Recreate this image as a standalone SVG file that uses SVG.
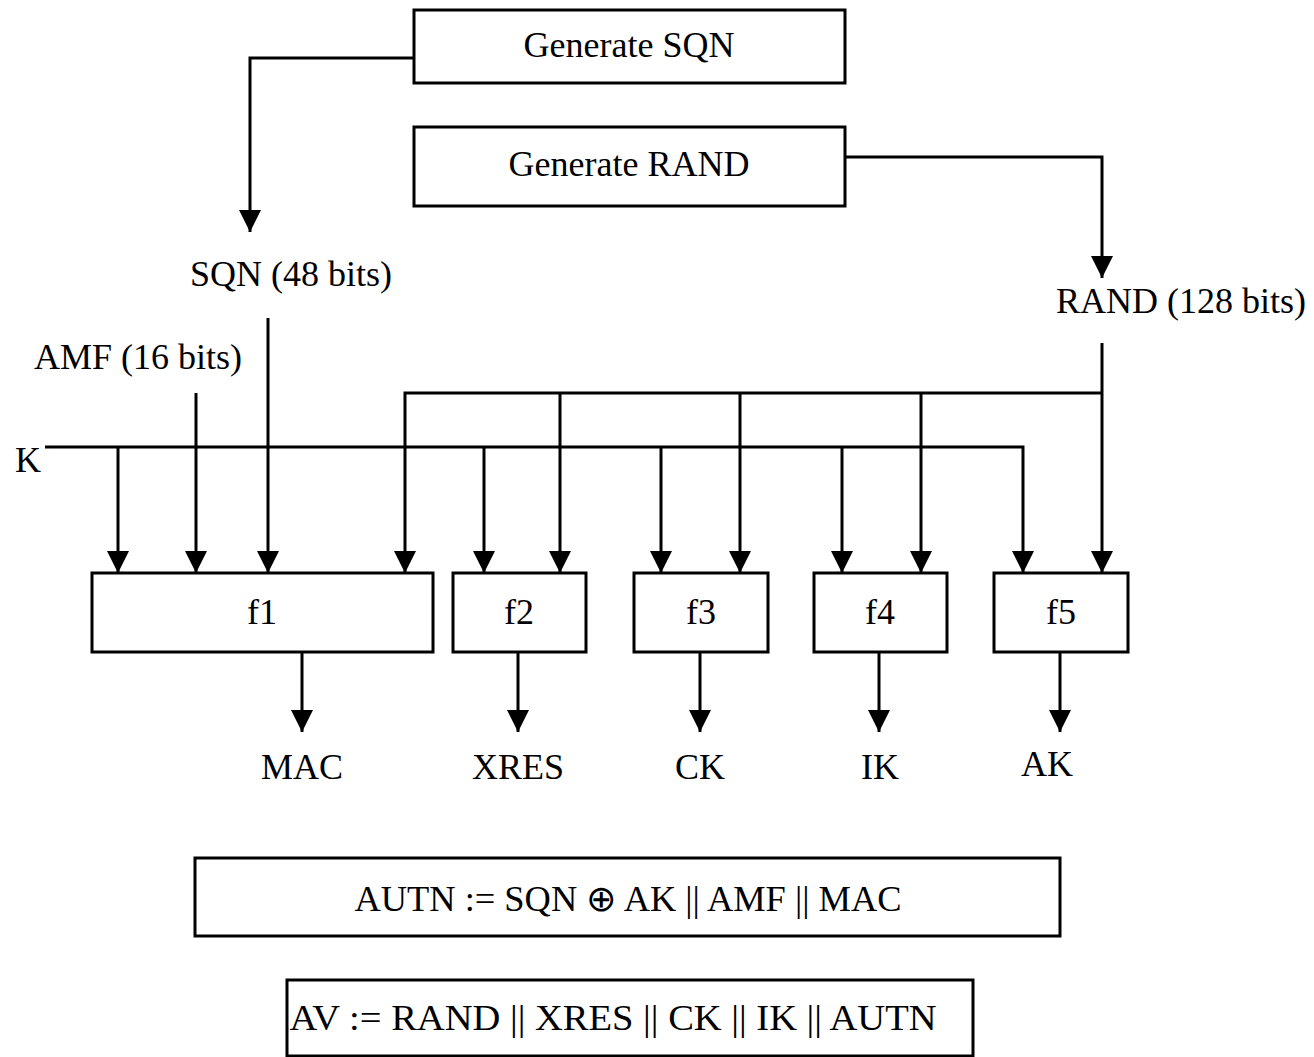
<svg xmlns="http://www.w3.org/2000/svg" width="1314" height="1057" viewBox="0 0 1314 1057">
<style>
text{font-family:"Liberation Serif","Times New Roman",serif;font-size:36px;fill:#000}
.c{text-anchor:middle}
.box{fill:#fff;stroke:#000;stroke-width:3}
.ln{fill:none;stroke:#000;stroke-width:3}
</style>
<defs>
<marker id="ah" markerUnits="userSpaceOnUse" markerWidth="22" markerHeight="22" refX="22" refY="11" orient="auto">
<path d="M0,0 L22,11 L0,22 z" fill="#000"/>
</marker>
</defs>
<rect width="1314" height="1057" fill="#fff"/>
<g id="connectors">
<path class="ln" d="M414,58 H250 V232" marker-end="url(#ah)"/>
<path class="ln" d="M845,157 H1102 V278" marker-end="url(#ah)"/>
<path class="ln" d="M268,318 V573" marker-end="url(#ah)"/>
<path class="ln" d="M196,393 V573" marker-end="url(#ah)"/>
<path class="ln" d="M45,447 H1023 V573" marker-end="url(#ah)"/>
<path class="ln" d="M118,447 V573" marker-end="url(#ah)"/>
<path class="ln" d="M484,447 V573" marker-end="url(#ah)"/>
<path class="ln" d="M661,447 V573" marker-end="url(#ah)"/>
<path class="ln" d="M842,447 V573" marker-end="url(#ah)"/>
<path class="ln" d="M1102,343 V573" marker-end="url(#ah)"/>
<path class="ln" d="M1102,393 H405 V573" marker-end="url(#ah)"/>
<path class="ln" d="M560,393 V573" marker-end="url(#ah)"/>
<path class="ln" d="M740,393 V573" marker-end="url(#ah)"/>
<path class="ln" d="M921,393 V573" marker-end="url(#ah)"/>
<path class="ln" d="M302,652 V732" marker-end="url(#ah)"/>
<path class="ln" d="M518,652 V732" marker-end="url(#ah)"/>
<path class="ln" d="M700,652 V732" marker-end="url(#ah)"/>
<path class="ln" d="M879,652 V732" marker-end="url(#ah)"/>
<path class="ln" d="M1060,652 V732" marker-end="url(#ah)"/>
</g>
<g id="gen-sqn"><rect class="box" x="414" y="10" width="431" height="73"/><text class="c" x="629" y="57">Generate SQN</text></g>
<g id="gen-rand"><rect class="box" x="414" y="127" width="431" height="79"/><text class="c" x="629" y="176">Generate RAND</text></g>
<g id="sqn"><text class="c" x="291" y="286">SQN (48 bits)</text></g>
<g id="rand"><text class="c" x="1181" y="313">RAND (128 bits)</text></g>
<g id="amf"><text class="c" x="138" y="369">AMF (16 bits)</text></g>
<g id="k"><text x="15" y="472">K</text></g>
<g id="f1"><rect class="box" x="92" y="573" width="341" height="79"/><text class="c" x="262" y="624">f1</text></g>
<g id="f2"><rect class="box" x="453" y="573" width="133" height="79"/><text class="c" x="519" y="624">f2</text></g>
<g id="f3"><rect class="box" x="634" y="573" width="134" height="79"/><text class="c" x="701" y="624">f3</text></g>
<g id="f4"><rect class="box" x="814" y="573" width="133" height="79"/><text class="c" x="880" y="624">f4</text></g>
<g id="f5"><rect class="box" x="994" y="573" width="134" height="79"/><text class="c" x="1061" y="624">f5</text></g>
<g id="mac"><text class="c" x="302" y="779">MAC</text></g>
<g id="xres"><text class="c" x="518" y="779">XRES</text></g>
<g id="ck"><text class="c" x="700" y="779">CK</text></g>
<g id="ik"><text class="c" x="880" y="779">IK</text></g>
<g id="ak"><text class="c" x="1047" y="776">AK</text></g>
<g id="autn"><rect class="box" x="195" y="858" width="865" height="78"/><text class="c" x="628" y="911" textLength="547" lengthAdjust="spacingAndGlyphs">AUTN := SQN ⊕ AK || AMF || MAC</text></g>
<g id="av"><rect class="box" x="287" y="980" width="686" height="76"/><text class="c" x="613" y="1030" font-size="38" textLength="647" lengthAdjust="spacingAndGlyphs">AV := RAND || XRES || CK || IK || AUTN</text></g>
</svg>
